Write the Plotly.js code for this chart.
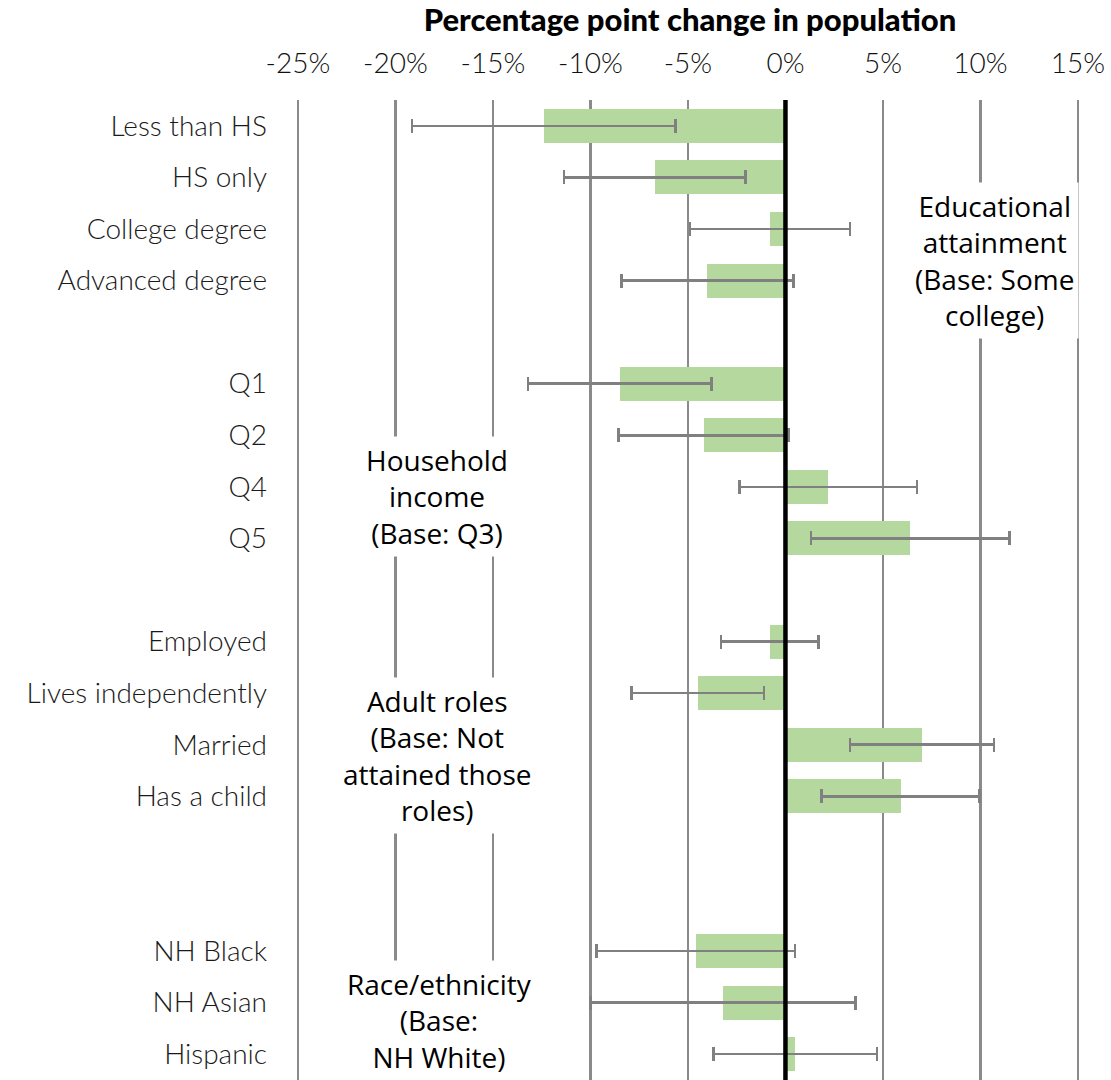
<!DOCTYPE html>
<html>
<head>
<meta charset="utf-8">
<script src="https://cdn.plot.ly/plotly-3.0.1.min.js"></script>
<style>html,body{margin:0;padding:0;background:#fff;}#chart{width:1111px;height:1080px;}</style>
</head>
<body>
<div id="chart"></div>
<script>
// ---- Data ----
const eduLabels = ["Less than HS", "HS only", "College degree", "Advanced degree"];
const eduValues = [-12.4, -6.7, -0.8, -4.0];
const eduErrors = [6.75, 4.65, 4.1, 4.4];

const incomeLabels = ["Q1", "Q2", "Q4", "Q5"];
const incomeValues = [-8.5, -4.2, 2.2, 6.4];
const incomeErrors = [4.7, 4.35, 4.55, 5.1];

const roleLabels = ["Employed", "Lives independently", "Married", "Has a child"];
const roleValues = [-0.8, -4.5, 7.0, 5.9];
const roleErrors = [2.5, 3.4, 3.7, 4.05];

const raceLabels = ["NH Black", "NH Asian", "Hispanic"];
const raceValues = [-4.6, -3.2, 0.5];
const raceErrors = [5.1, 6.8, 4.2];

const groupNotes = [
  "Educational<br>attainment<br>(Base: Some<br>college)",
  "Household<br>income<br>(Base: Q3)",
  "Adult roles<br>(Base: Not<br>attained those<br>roles)",
  "Race/ethnicity<br>(Base:<br>NH White)"
];
const blankRowsAfter = [1, 1, 2, 0];
const xTickVals = [-25, -20, -15, -10, -5, 0, 5, 10, 15];
const xTickText = ["-25%", "-20%", "-15%", "-10%", "-5%", "0%", "5%", "10%", "15%"];
const axisTitle = "Percentage point change in population";

// ---- Build rows ----
const groups = [
  [eduLabels, eduValues, eduErrors],
  [incomeLabels, incomeValues, incomeErrors],
  [roleLabels, roleValues, roleErrors],
  [raceLabels, raceValues, raceErrors]
];
const ys = [], xs = [], errs = [], labels = [];
let row = 0;
groups.forEach((g, gi) => {
  g[0].forEach((lab, i) => {
    ys.push(row); xs.push(g[1][i]); errs.push(g[2][i]); labels.push(lab);
    row++;
  });
  row += blankRowsAfter[gi];
});

const trace = {
  type: "bar",
  orientation: "h",
  x: xs,
  y: ys,
  width: 0.66,
  marker: {color: "#b5d89f"},
  error_x: {type: "data", array: errs, visible: true, color: "#808080", thickness: 2.5, width: 7},
  hoverinfo: "none"
};

const noteFont = {family: "Open Sans, Noto Sans, sans-serif", size: 28, color: "#000"};
const notePos = [[10.7, 2.62], [-17.85, 7.18], [-17.85, 12.2], [-17.75, 17.35]];
const annotations = groupNotes.map((t, i) => ({
  text: t, x: notePos[i][0], y: notePos[i][1], xref: "x", yref: "y",
  showarrow: false, font: noteFont, bgcolor: "#ffffff", align: "center",
  borderpad: 4
}));

const layout = {
  width: 1111, height: 1080,
  margin: {l: 280, r: 11, t: 100, b: 0},
  paper_bgcolor: "#fff", plot_bgcolor: "#fff",
  showlegend: false,
  bargap: 0,
  xaxis: {
    side: "top",
    range: [-25.92, 16.13],
    tickvals: xTickVals, ticktext: xTickText,
    showgrid: true, gridcolor: "#8a8a8a", gridwidth: 2.5,
    zeroline: false, showline: false, ticks: "",
    ticklabelstandoff: 20,
    tickfont: {family: "Lato, sans-serif", size: 28, color: "#111", weight: 300},
    title: {text: axisTitle, standoff: 8, font: {family: "Lato, sans-serif", size: 31, color: "#000", weight: 900}}
  },
  yaxis: {
    range: [18.5, -0.5],
    tickvals: ys, ticktext: labels,
    showgrid: false, zeroline: false, showline: false, ticks: "",
    ticklabelstandoff: 12,
    tickfont: {family: "Lato, sans-serif", size: 28, color: "#1a1a1a", weight: 300}
  },
  shapes: [{type: "line", xref: "x", yref: "paper", x0: 0, x1: 0, y0: 0, y1: 1,
            line: {color: "#000", width: 4.5}, layer: "above"}],
  annotations: annotations
};

Plotly.newPlot("chart", [trace], layout, {displayModeBar: false, staticPlot: true});
</script>
</body>
</html>
